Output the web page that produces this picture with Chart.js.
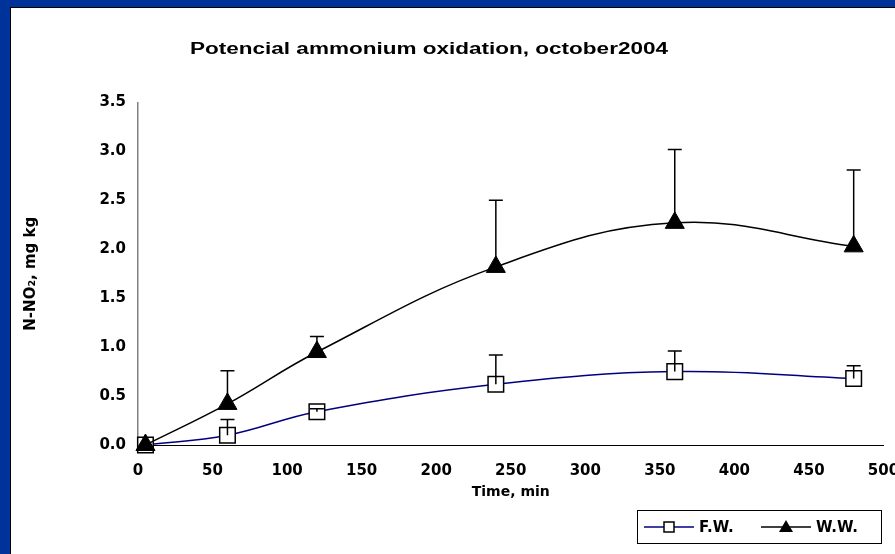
<!DOCTYPE html>
<html>
<head>
<meta charset="utf-8">
<script src="https://cdn.jsdelivr.net/npm/chart.js@4"></script>
<style>
  html, body { margin: 0; padding: 0; }
  body { width: 895px; height: 554px; background: #003399; overflow: hidden; position: relative; }
  #panel { position: absolute; left: 10px; top: 7px; width: 885px; height: 547px; background: #fff; border-left: 1px solid #000; border-top: 1px solid #000; }
  #wrap { position: absolute; left: 1px; top: 1px; width: 884px; height: 546px; }
</style>
</head>
<body>
<div id="panel"><div id="wrap"><canvas id="myChart"></canvas></div></div>
<script>
// thời gian (min) va gia tri N-NO2
const times = [5, 60, 120, 240, 360, 480]
const fwValues = [0.0, 0.10, 0.34, 0.62, 0.75, 0.68]
const fwErr = [0.0, 0.16, 0.03, 0.30, 0.21, 0.13]
const wwValues = [0.0, 0.42, 0.95, 1.82, 2.27, 2.03]
const wwErr = [0.0, 0.34, 0.16, 0.68, 0.75, 0.78]

const titleText = "Potencial ammonium oxidation, october2004"
const fontName = "'DejaVu Sans', sans-serif"

function toPoints(xs, ys){
  return xs.map((x, i) => ({x: x, y: ys[i]}))
}

// ve thanh sai so (chi phia tren)
const errorBars = {
  id: "errorBars",
  afterDatasetsDraw(chart){
    const ctx = chart.ctx
    const xs = chart.scales.x, ys = chart.scales.y
    const errs = [fwErr, wwErr]
    ctx.save()
    ctx.strokeStyle = "#000"
    ctx.lineWidth = 1.5
    chart.data.datasets.forEach((ds, d) => {
      ds.data.forEach((p, i) => {
        if(!errs[d][i]) return
        const px = xs.getPixelForValue(p.x)
        const y0 = ys.getPixelForValue(p.y)
        const y1 = ys.getPixelForValue(p.y + errs[d][i])
        ctx.beginPath()
        ctx.moveTo(px, y0)
        ctx.lineTo(px, y1)
        ctx.moveTo(px - 7, y1)
        ctx.lineTo(px + 7, y1)
        ctx.stroke()
      })
    })
    ctx.restore()
  }
}

// tieu de + chu thich
const extras = {
  id: "extras",
  afterDraw(chart){
    const ctx = chart.ctx
    ctx.save()
    ctx.fillStyle = "#000"
    ctx.font = "bold 16px 'Liberation Sans', Arial, sans-serif"
    ctx.textAlign = "center"
    ctx.textBaseline = "middle"
    // chu trong anh goc bi gian ngang
    const sx = 478 / ctx.measureText(titleText).width
    ctx.translate(417, 41)
    ctx.scale(sx, 1)
    ctx.fillText(titleText, 0, 0)
    ctx.setTransform(chart.currentDevicePixelRatio, 0, 0, chart.currentDevicePixelRatio, 0, 0)

    // hop chu thich
    const bx = 625, by = 501, bw = 244, bh = 33
    ctx.strokeStyle = "#000"
    ctx.lineWidth = 1
    ctx.strokeRect(bx + 0.5, by + 0.5, bw, bh)
    const cy = by + bh / 2 + 0.5
    ctx.font = "bold 15px " + fontName
    ctx.textAlign = "left"
    chart.data.datasets.forEach((ds, d) => {
      const lx = d == 0 ? bx + 7 : bx + 124
      ctx.strokeStyle = ds.borderColor
      ctx.lineWidth = 1.5
      ctx.beginPath()
      ctx.moveTo(lx, cy)
      ctx.lineTo(lx + 50, cy)
      ctx.stroke()
      if(d == 0){
        ctx.strokeStyle = "#000"
        ctx.fillStyle = "#fff"
        ctx.fillRect(lx + 20, cy - 5, 10, 10)
        ctx.strokeRect(lx + 20, cy - 5, 10, 10)
      } else {
        ctx.fillStyle = "#000"
        ctx.beginPath()
        ctx.moveTo(lx + 25, cy - 7)
        ctx.lineTo(lx + 32, cy + 5)
        ctx.lineTo(lx + 18, cy + 5)
        ctx.closePath()
        ctx.fill()
      }
      ctx.fillStyle = "#000"
      ctx.fillText(ds.label, lx + 55, cy + 1)
    })
    ctx.restore()
  }
}

const chart = new Chart("myChart", {
  type: "line",
  data: {
    datasets: [{
        label: "F.W.",
        data: toPoints(times, fwValues),
        order: 1,
        borderColor: "#000080",
        borderWidth: 1.5,
        tension: 0.4,
        clip: false,
        pointStyle: "rect",
        pointRadius: 11,
        pointBorderColor: "#000",
        pointBackgroundColor: "#fff",
        pointBorderWidth: 1.5
      },{
        label: "W.W.",
        data: toPoints(times, wwValues),
        order: 0,
        borderColor: "#000",
        borderWidth: 1.5,
        tension: 0.4,
        clip: false,
        pointStyle: "triangle",
        pointRadius: 11,
        pointBorderColor: "#000",
        pointBackgroundColor: "#000",
        pointBorderWidth: 1
      }
    ]
  },
  options: {
    responsive: true,
    maintainAspectRatio: false,
    animation: false,
    layout: { padding: { top: 93.5, right: 11, bottom: 54, left: 0 } },
    plugins: { legend: { display: false }, title: { display: false }, tooltip: { enabled: false } },
    scales: {
      x: {
        type: "linear",
        min: 0, max: 500,
        ticks: { stepSize: 50, color: "#000", padding: 11, font: { family: fontName, size: 15, weight: "bold" } },
        grid: { display: false, drawOnChartArea: false, drawTicks: true, tickLength: 6, color: "#000" },
        border: { color: "#000", width: 1 },
        title: { display: true, text: "Time, min", color: "#000", padding: { top: 0, bottom: 0 }, font: { family: fontName, size: 14, weight: "bold" } },
        afterFit(scale){ scale.paddingLeft = 0; scale.paddingRight = 0; scale.height = 56 }
      },
      y: {
        min: 0, max: 3.5,
        ticks: { stepSize: 0.5, color: "#000", padding: 6, callback: v => v.toFixed(1), font: { family: fontName, size: 15, weight: "bold" } },
        grid: { display: false, drawOnChartArea: false, drawTicks: true, tickLength: 6, color: "#808080" },
        border: { color: "#808080", width: 1.5 },
        title: { display: true, text: "N-NO₂, mg kg", color: "#000", padding: { top: 10, bottom: 0 }, font: { family: fontName, size: 15, weight: "bold" } },
        afterFit(scale){ scale.width = 126; scale.paddingTop = 0; scale.paddingBottom = 0 }
      }
    }
  },
  plugins: [errorBars, extras]
})
</script>
</body>
</html>
